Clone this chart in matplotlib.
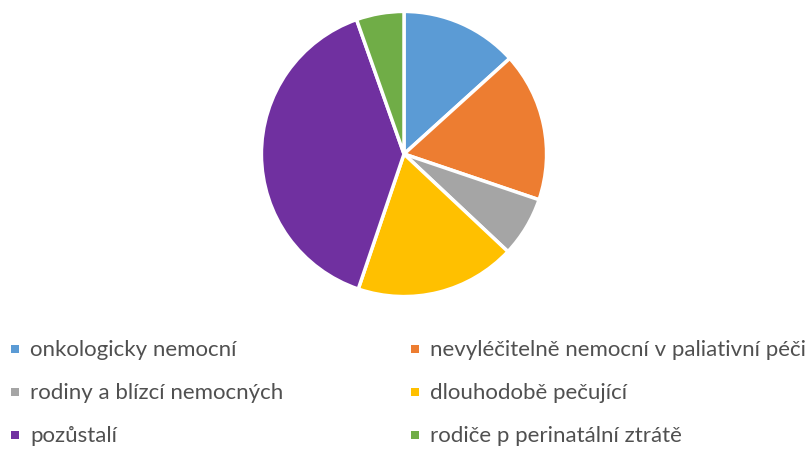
import matplotlib.pyplot as plt
from matplotlib.patches import Rectangle

# Share of each group (%)
labels = ["onkologicky nemocní", "nevyléčitelně nemocní v paliativní péči",
          "rodiny a blízcí nemocných", "dlouhodobě pečující",
          "pozůstalí", "rodiče p perinatální ztrátě"]
values = [13.3, 16.9, 6.8, 18.2, 39.4, 5.4]
colors = ["#5B9BD5", "#ED7D31", "#A5A5A5", "#FFC000", "#7030A0", "#70AD47"]

plt.rcParams['font.family'] = ['Lato', 'DejaVu Sans']

fig = plt.figure(figsize=(8.1, 4.52), dpi=100)
W, H = 810, 452

# pie centred at about (404, 155) px with radius 144 px
cx, cy, r = 404, 155, 144
ax = fig.add_axes([(cx - r) / W, (H - cy - r) / H, 2 * r / W, 2 * r / H])
ax.pie(values, colors=colors, startangle=90, counterclock=False,
       wedgeprops=dict(edgecolor="white", linewidth=2.5))
ax.set_xlim(-1.01, 1.01)
ax.set_ylim(-1.01, 1.01)
ax.set_aspect("equal")
ax.axis("off")

# legend, two columns, three rows
col_x = [15, 415]
row_y = [350, 393, 436]
for i, (lab, col) in enumerate(zip(labels, colors)):
    x = col_x[i % 2]
    y = row_y[i // 2]
    fig.patches.append(Rectangle(((x - 4) / W, (H - y - 4) / H), 8 / W, 8 / H,
                                 transform=fig.transFigure, facecolor=col,
                                 edgecolor="none"))
    fig.text((x + 15) / W, (H - y) / H, lab, fontsize=16, color="#505050",
             va="center", ha="left")

fig.savefig("out.png", dpi=100)
